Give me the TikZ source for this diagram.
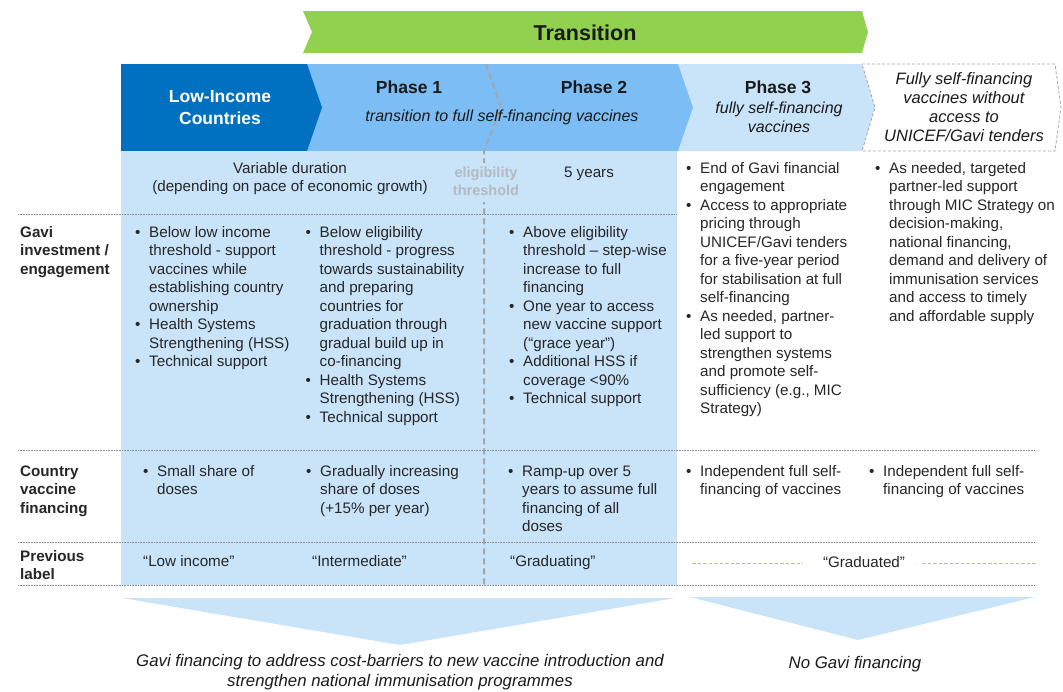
\documentclass[tikz,border=0pt]{standalone}
\usepackage{fontspec}
\setmainfont{Liberation Sans}
\usepackage{array}
\definecolor{darkblue}{HTML}{0070C0}
\definecolor{midblue}{HTML}{7DBDF5}
\definecolor{lightblue}{HTML}{C9E3F9}
\definecolor{tgreen}{HTML}{92D050}
\definecolor{dashgray}{HTML}{A6A6A6}
\definecolor{thrtxt}{HTML}{B3BAC1}
\definecolor{linegray}{HTML}{8C8C8C}
\definecolor{gradline}{HTML}{C3D13A}
\definecolor{txt}{HTML}{262626}
\definecolor{hdtxt}{HTML}{1A1A1A}
\newcommand{\bu}{\makebox[14pt][l]{\textbullet}}
\begin{document}
\begin{tikzpicture}[x=1pt,y=-1pt,
  body/.style={font=\fontsize{15.2}{18.5}\selectfont, text=txt, inner sep=0pt, anchor=base west},
  lab/.style={font=\fontsize{15.2}{18.5}\selectfont\bfseries, text=txt, inner sep=0pt, anchor=base west},
  ctr/.style={font=\fontsize{15.2}{18.5}\selectfont, text=txt, inner sep=0pt, anchor=base},
  hd/.style={font=\fontsize{17.5}{21.5}\selectfont\bfseries, text=hdtxt, inner sep=0pt, anchor=base},
  itx/.style={font=\fontsize{16}{19}\selectfont\itshape, text=hdtxt, inner sep=0pt, anchor=base},
  botx/.style={font=\fontsize{16.8}{19.5}\selectfont\itshape, text=hdtxt, inner sep=0pt, anchor=base},
  rowline/.style={draw=linegray, line width=0.7pt, dash pattern=on 0.8pt off 0.8pt},
  thr/.style={draw=dashgray, line width=2pt, dash pattern=on 6pt off 4pt},
  gradl/.style={draw=gradline, line width=1pt, dash pattern=on 3.5pt off 2pt}
]
\useasboundingbox (0,0) rectangle (1063,691);

% Transition arrow
\fill[tgreen] (303,11) -- (862,11) -- (868,32) -- (862,53) -- (303,53) -- (312,32) -- cycle;
\node[font=\fontsize{21.5}{24}\selectfont\bfseries, text=hdtxt, inner sep=0pt, anchor=base] (trans) at (585,40.5) {Transition};

% header shapes
\fill[lightblue] (678,64) -- (862,64) -- (875,107.5) -- (862,151) -- (678,151) -- (693,107.5) -- cycle;
\fill[midblue] (300,64) -- (678,64) -- (693,107.5) -- (678,151) -- (300,151) -- cycle;
\fill[darkblue] (121,64) -- (307,64) -- (322,107.5) -- (307,151) -- (121,151) -- cycle;
\draw[dashgray, line width=0.8pt, dash pattern=on 3pt off 2pt, fill=white] (862,64) -- (1055,64) -- (1061,107.5) -- (1055,151) -- (862,151) -- (875,107.5) -- cycle;

% table background
\fill[lightblue] (121,151) rectangle (677,585);

% eligibility threshold dashed line
\draw[thr] (486,64) -- (501,107.5) -- (484,151) -- (484,585);

% row separators
\draw[rowline] (18,214) -- (677,214);
\draw[rowline] (18,450) -- (1035,450);
\draw[rowline] (18,542) -- (1035,542);
\draw[rowline] (18,585) -- (1035,585);

% bottom chevrons
\fill[lightblue] (122,598) -- (675,598) -- (400,645) -- cycle;
\fill[lightblue] (690,597) -- (1035,597) -- (858,640) -- cycle;

% header texts
\node[hd, text=white] (lic) at (220,102.8) {\begin{tabular}[t]{@{}c@{}}Low-Income\\Countries\end{tabular}};
\node[hd] (ph1) at (409,93.3) {Phase 1};
\node[itx] (ph12sub) at (502,121.5) {transition to full self-financing vaccines};
\node[hd] (ph2) at (594,93.3) {Phase 2};
\node[hd] (ph3) at (778,93.3) {Phase 3};
\node[itx] (ph3sub) at (779,113.5) {\begin{tabular}[t]{@{}c@{}}fully self-financing\\vaccines\end{tabular}};
\node[itx, font=\fontsize{16.5}{19}\selectfont\itshape] (fullhd) at (964,84.5) {\begin{tabular}[t]{@{}c@{}}Fully self-financing\\vaccines without\\access to\\UNICEF/Gavi tenders\end{tabular}};

% duration row
\node[ctr] (dur12) at (290,173) {\begin{tabular}[t]{@{}c@{}}Variable duration\\(depending on pace of economic growth)\end{tabular}};
\node[font=\fontsize{14.5}{18.5}\selectfont\bfseries, text=thrtxt, inner sep=1pt, fill=lightblue, anchor=base] (elig) at (486,177) {\begin{tabular}[t]{@{}c@{}}eligibility\\threshold\end{tabular}};
\node[ctr] (dur2) at (589,177) {5 years};

% left labels
\node[lab] (labinv) at (20,237) {\begin{tabular}[t]{@{}l@{}}Gavi\\investment /\\engagement\end{tabular}};
\node[lab] (labfin) at (20,476) {\begin{tabular}[t]{@{}l@{}}Country\\vaccine\\financing\end{tabular}};
\node[lab] (labprev) at (20,561) {\begin{tabular}[t]{@{}l@{}}Previous\\label\end{tabular}};

% investment row
\node[body] (licinv) at (135,237) {\begin{tabular}[t]{@{}l@{}l@{}}\bu&Below low income\\&threshold - support\\&vaccines while\\&establishing country\\&ownership\\\bu&Health Systems\\&Strengthening (HSS)\\\bu&Technical support\end{tabular}};
\node[body] (ph1inv) at (305.5,237) {\begin{tabular}[t]{@{}l@{}l@{}}\bu&Below eligibility\\&threshold - progress\\&towards sustainability\\&and preparing\\&countries for\\&graduation through\\&gradual build up in\\&co-financing\\\bu&Health Systems\\&Strengthening (HSS)\\\bu&Technical support\end{tabular}};
\node[body] (ph2inv) at (509,237) {\begin{tabular}[t]{@{}l@{}l@{}}\bu&Above eligibility\\&threshold – step-wise\\&increase to full\\&financing\\\bu&One year to access\\&new vaccine support\\&(“grace year”)\\\bu&Additional HSS if\\&coverage <90\%\\\bu&Technical support\end{tabular}};
\node[body] (ph3inv) at (686,173) {\begin{tabular}[t]{@{}l@{}l@{}}\bu&End of Gavi financial\\&engagement\\\bu&Access to appropriate\\&pricing through\\&UNICEF/Gavi tenders\\&for a five-year period\\&for stabilisation at full\\&self-financing\\\bu&As needed, partner-\\&led support to\\&strengthen systems\\&and promote self-\\&sufficiency (e.g., MIC\\&Strategy)\end{tabular}};
\node[body] (fullinv) at (875,173) {\begin{tabular}[t]{@{}l@{}l@{}}\bu&As needed, targeted\\&partner-led support\\&through MIC Strategy on\\&decision-making,\\&national financing,\\&demand and delivery of\\&immunisation services\\&and access to timely\\&and affordable supply\end{tabular}};

% financing row
\node[body] (licfin) at (143,476) {\begin{tabular}[t]{@{}l@{}l@{}}\bu&Small share of\\&doses\end{tabular}};
\node[body] (ph1fin) at (306,476) {\begin{tabular}[t]{@{}l@{}l@{}}\bu&Gradually increasing\\&share of doses\\&(+15\% per year)\end{tabular}};
\node[body] (ph2fin) at (508,476) {\begin{tabular}[t]{@{}l@{}l@{}}\bu&Ramp-up over 5\\&years to assume full\\&financing of all\\&doses\end{tabular}};
\node[body] (ph3fin) at (686,476) {\begin{tabular}[t]{@{}l@{}l@{}}\bu&Independent full self-\\&financing of vaccines\end{tabular}};
\node[body] (fullfin) at (869,476) {\begin{tabular}[t]{@{}l@{}l@{}}\bu&Independent full self-\\&financing of vaccines\end{tabular}};

% previous label row
\node[body] (prevlic) at (143,566) {“Low income”};
\node[body] (prevph1) at (312,566) {“Intermediate”};
\node[body] (prevph2) at (510,566) {“Graduating”};
\node[ctr] (prevgrad) at (864,567) {“Graduated”};
\coordinate (g1a) at (692,563);
\coordinate (g1b) at (803,563);
\coordinate (g2a) at (922,563);
\coordinate (g2b) at (1037,563);
\draw[gradl] (g1a) -- (g1b);
\draw[gradl] (g2a) -- (g2b);

% bottom texts
\node[botx] (gavifin) at (400,666.5) {\begin{tabular}[t]{@{}c@{}}Gavi financing to address cost-barriers to new vaccine introduction and\\strengthen national immunisation programmes\end{tabular}};
\node[botx] (nogavi) at (855,668.5) {No Gavi financing};
\end{tikzpicture}
\end{document}
